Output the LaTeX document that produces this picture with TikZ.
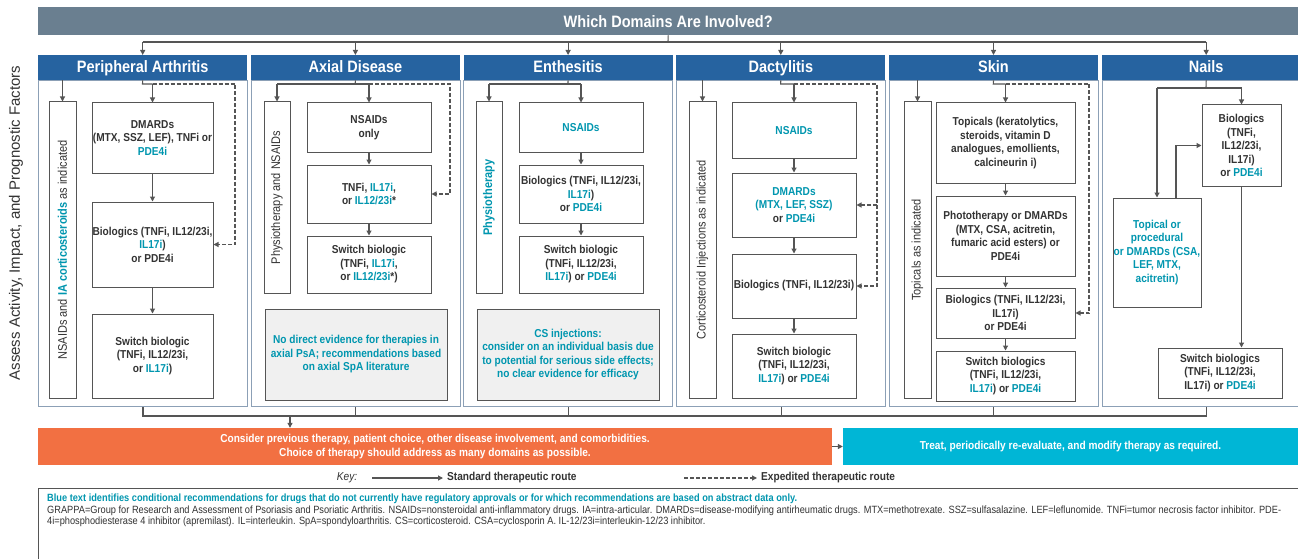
\documentclass[tikz,border=0pt]{standalone}
\usepackage{fontspec}
\setmainfont{Liberation Sans}[FakeStretch=0.88]
\newfontfamily\widefont{Liberation Sans}
\usetikzlibrary{arrows.meta}

\definecolor{hdrgray}{RGB}{106,127,144}
\definecolor{colblue}{RGB}{38,99,160}
\definecolor{frameblue}{RGB}{140,160,182}
\definecolor{boxline}{RGB}{85,85,85}
\definecolor{txtgray}{RGB}{51,51,51}
\definecolor{tealtxt}{RGB}{0,150,175}
\definecolor{notefill}{RGB}{240,240,240}
\definecolor{orangebar}{RGB}{242,112,66}
\definecolor{cyanbar}{RGB}{0,182,214}

\newcommand{\condrec}[1]{\textcolor{tealtxt}{\bfseries #1}}

\tikzstyle{box}=[draw=boxline, line width=1pt, fill=white, align=center, inner sep=0pt, text=txtgray, font=\fontsize{11.5}{13.5}\selectfont\bfseries]
\tikzstyle{vbox}=[box, rotate=90, font=\fontsize{12.5}{14}\selectfont]
\tikzstyle{note}=[box, fill=notefill, text=tealtxt]
\tikzstyle{colhead}=[fill=colblue, text=white, inner sep=0pt, minimum width=209pt, minimum height=25pt, text height=12pt, text depth=3pt, font=\fontsize{16.5}{18}\selectfont\bfseries]
\tikzstyle{colbody}=[draw=frameblue, line width=1pt, inner sep=0pt, minimum width=209pt, minimum height=326pt]
\tikzstyle{bar}=[text=white, align=center, inner sep=0pt, minimum height=37pt, font=\fontsize{11.5}{13.5}\selectfont\bfseries]
\tikzstyle{link}=[draw=boxline, line width=1.1pt]
\tikzstyle{flow}=[link, -{Triangle[length=5pt,width=5pt]}]
\tikzstyle{fast}=[flow, dash pattern=on 4pt off 2pt]

\begin{document}
\begin{tikzpicture}[x=1pt,y=-1pt]
    \fill[white] (0,0) rectangle (1298,559);
    \useasboundingbox (0,0) rectangle (1298,559);

    \node[fill=hdrgray, text=white, inner sep=0pt, minimum width=1260pt, minimum height=28pt, anchor=north west, font=\fontsize{16.5}{18}\selectfont\bfseries] (domains) at (38,7) {Which Domains Are Involved?};
    \node[rotate=90, text=txtgray, font=\widefont\fontsize{15}{17}\selectfont] (assess) at (16,223) {Assess Activity, Impact, and Prognostic Factors};

    \foreach \name/\title [count=\i from 0] in {pa/Peripheral Arthritis, ax/Axial Disease, en/Enthesitis, da/Dactylitis, sk/Skin, na/Nails} {
        \node[colbody, anchor=north west] (\name b) at (38+212.7*\i,80) {};
        \node[colhead, anchor=north west] (\name h) at (38+212.7*\i,55) {\title};
    }

    \coordinate (split) at (668,42);
    \draw[link] (domains.south) -- (split);
    \draw[link] (pah.north |- split) -- (nah.north |- split);
    \foreach \name in {pa,ax,en,da,sk,na}
        \draw[flow] (\name h.north |- split) -- (\name h.north);

    \node[vbox, minimum width=296pt, minimum height=27pt] (pav) at (62.5,250) {NSAIDs and \condrec{IA corticosteroids} as indicated};
    \node[box, minimum width=121pt, minimum height=70pt] (pa1) at (152.5,138) {DMARDs\\(MTX, SSZ, LEF), TNFi or\\\condrec{PDE4i}};
    \node[box, minimum width=121pt, minimum height=85pt] (pa2) at (152.5,244.5) {Biologics (TNFi, IL12/23i,\\\condrec{IL17i})\\or PDE4i};
    \node[box, minimum width=121pt, minimum height=84pt] (pa3) at (152.5,356) {Switch biologic\\(TNFi, IL12/23i,\\or \condrec{IL17i})};
    \coordinate (paj) at (142.5,84);
    \draw[flow] (pah.south -| pav.east) -- (pav.east);
    \draw[link] (pah.south) -- (paj) -- (paj -| pa1.north);
    \draw[flow] (paj -| pa1.north) -- (pa1.north);
    \draw[fast] (paj -| pa1.north) -- (235,84) |- (pa2.east);
    \draw[flow] (pa1) -- (pa2);
    \draw[flow] (pa2) -- (pa3);

    \node[vbox, minimum width=191pt, minimum height=26pt] (axv) at (277,197.5) {Physiotherapy and NSAIDs};
    \node[box, minimum width=124pt, minimum height=49pt] (ax1) at (369,127.5) {NSAIDs\\only};
    \node[box, minimum width=124pt, minimum height=58pt] (ax2) at (369,194) {TNFi, \condrec{IL17i},\\or \condrec{IL12/23i}*};
    \node[box, minimum width=124pt, minimum height=57pt] (ax3) at (369,264.5) {Switch biologic\\(TNFi, \condrec{IL17i},\\or \condrec{IL12/23i}*)};
    \node[note, minimum width=182pt, minimum height=91pt] (axn) at (356,354.5) {No direct evidence for therapies in\\axial PsA; recommendations based\\on axial SpA literature};
    \coordinate (axj) at (355.2,84);
    \draw[link] (axh.south) -- (axj);
    \draw[link] (axj -| axv.east) -- (axj -| ax1.north);
    \draw[flow] (axj -| axv.east) -- (axv.east);
    \draw[flow] (axj -| ax1.north) -- (ax1.north);
    \draw[fast] (axj -| ax1.north) -- (450,84) |- (ax2.east);
    \draw[flow] (ax1) -- (ax2);
    \draw[flow] (ax2) -- (ax3);

    \node[vbox, minimum width=191pt, minimum height=26pt] (env) at (489,197.5) {\condrec{Physiotherapy}};
    \node[box, minimum width=124pt, minimum height=49pt] (en1) at (581,127.5) {\condrec{NSAIDs}};
    \node[box, minimum width=124pt, minimum height=58pt] (en2) at (581,194) {Biologics (TNFi, IL12/23i,\\\condrec{IL17i})\\or \condrec{PDE4i}};
    \node[box, minimum width=124pt, minimum height=57pt] (en3) at (581,264.5) {Switch biologic\\(TNFi, IL12/23i,\\\condrec{IL17i}) or \condrec{PDE4i}};
    \node[note, minimum width=182pt, minimum height=91pt] (enn) at (568,354.5) {CS injections:\\consider on an individual basis due\\to potential for serious side effects;\\no clear evidence for efficacy};
    \coordinate (enj) at (567.9,84);
    \draw[link] (enh.south) -- (enj);
    \draw[link] (enj -| env.east) -- (enj -| en1.north);
    \draw[flow] (enj -| env.east) -- (env.east);
    \draw[flow] (enj -| en1.north) -- (en1.north);
    \draw[flow] (en1) -- (en2);
    \draw[flow] (en2) -- (en3);

    \node[vbox, minimum width=296pt, minimum height=27pt] (dav) at (702.5,250) {Corticosteroid Injections as indicated};
    \node[box, minimum width=124pt, minimum height=55pt] (da1) at (794,130.5) {\condrec{NSAIDs}};
    \node[box, minimum width=124pt, minimum height=64pt] (da2) at (794,205) {\condrec{DMARDs}\\\condrec{(MTX, LEF, SSZ)}\\or \condrec{PDE4i}};
    \node[box, minimum width=124pt, minimum height=64pt] (da3) at (794,286) {Biologics (TNFi, IL12/23i)};
    \node[box, minimum width=124pt, minimum height=64pt] (da4) at (794,366) {Switch biologic\\(TNFi, IL12/23i,\\\condrec{IL17i}) or \condrec{PDE4i}};
    \coordinate (daj) at (780.6,84);
    \coordinate (dad) at (877,84);
    \draw[flow] (dah.south -| dav.east) -- (dav.east);
    \draw[link] (dah.south) -- (daj) -- (daj -| da1.north);
    \draw[flow] (daj -| da1.north) -- (da1.north);
    \draw[fast] (daj -| da1.north) -- (dad) |- (da3.east);
    \draw[fast] (dad |- da2.east) -- (da2.east);
    \draw[flow] (da1) -- (da2);
    \draw[flow] (da2) -- (da3);
    \draw[flow] (da3) -- (da4);

    \node[vbox, minimum width=296pt, minimum height=27pt] (skv) at (917.5,250) {Topicals as indicated};
    \node[box, minimum width=139pt, minimum height=80pt] (sk1) at (1005.5,143) {Topicals (keratolytics,\\steroids, vitamin D\\analogues, emollients,\\calcineurin i)};
    \node[box, minimum width=139pt, minimum height=80pt] (sk2) at (1005.5,236) {Phototherapy or DMARDs\\(MTX, CSA, acitretin,\\fumaric acid esters) or\\PDE4i};
    \node[box, minimum width=139pt, minimum height=50pt] (sk3) at (1005.5,313) {Biologics (TNFi, IL12/23i,\\IL17i)\\or PDE4i};
    \node[box, minimum width=139pt, minimum height=50pt] (sk4) at (1005.5,376) {Switch biologics\\(TNFi, IL12/23i,\\\condrec{IL17i}) or \condrec{PDE4i}};
    \coordinate (skj) at (993.3,84);
    \draw[flow] (skh.south -| skv.east) -- (skv.east);
    \draw[link] (skh.south) -- (skj) -- (skj -| sk1.north);
    \draw[flow] (skj -| sk1.north) -- (sk1.north);
    \draw[fast] (skj -| sk1.north) -- (1089,84) |- (sk3.east);
    \draw[flow] (sk1) -- (sk2);
    \draw[flow] (sk2) -- (sk3);
    \draw[flow] (sk3) -- (sk4);

    \node[box, minimum width=79pt, minimum height=81pt] (na1) at (1241.5,145.5) {Biologics\\(TNFi,\\IL12/23i,\\IL17i)\\or \condrec{PDE4i}};
    \node[box, minimum width=88pt, minimum height=109pt, text=tealtxt] (na2) at (1157,252.5) {Topical or\\procedural\\or DMARDs (CSA,\\LEF, MTX,\\acitretin)};
    \node[box, minimum width=124pt, minimum height=50pt] (na3) at (1220,373) {Switch biologics\\(TNFi, IL12/23i,\\IL17i) or \condrec{PDE4i}};
    \coordinate (naj) at (1206,88);
    \draw[link] (nah.south) -- (naj);
    \draw[link] (naj -| na2.north) -- (naj -| na1.north);
    \draw[flow] (naj -| na2.north) -- (na2.north);
    \draw[flow] (naj -| na1.north) -- (na1.north);
    \draw[flow] ([xshift=19pt]na2.north) |- (na1.west);
    \draw[flow] (na1.south) -- (na1.south |- na3.north);

    \node[bar, fill=orangebar, minimum width=794pt] (orange) at (435,446.5) {Consider previous therapy, patient choice, other disease involvement, and comorbidities.\\Choice of therapy should address as many domains as possible.};
    \node[bar, fill=cyanbar, minimum width=455pt] (cyan) at (1070.5,446.5) {Treat, periodically re-evaluate, and modify therapy as required.};
    \coordinate (merge) at (290,416);
    \draw[link] (pab.south) -- (pab.south |- merge) -- (nab.south |- merge);
    \foreach \name in {ax,en,da,sk,na}
        \draw[link] (\name b.south) -- (\name b.south |- merge);
    \draw[flow] (merge) -- (merge |- orange.north);
    \draw[flow] (orange) -- (cyan);

    \node[text=txtgray, font=\fontsize{11.5}{13}\selectfont\itshape] (key) at (347,478) {Key:};
    \node[anchor=west, text=txtgray, inner sep=0pt, font=\fontsize{11.5}{13}\selectfont\bfseries] (stdlbl) at (447,478) {Standard therapeutic route};
    \node[anchor=west, text=txtgray, inner sep=0pt, font=\fontsize{11.5}{13}\selectfont\bfseries] (fastlbl) at (761,478) {Expedited therapeutic route};
    \coordinate (std) at (372,478);
    \coordinate (exp) at (684,478);
    \draw[flow] (std) -- ([xshift=-4pt]stdlbl.west);
    \draw[fast] (exp) -- ([xshift=-4pt]fastlbl.west);

    \draw[draw=boxline, line width=0.8pt] (38,488) rectangle (1320,600);
    \node[anchor=north west, align=left, inner sep=0pt, text=txtgray, font=\fontsize{10.5}{11.5}\selectfont] (notes) at (47,494) {\condrec{Blue text identifies conditional recommendations for drugs that do not currently have regulatory approvals or for which recommendations are based on abstract data only.}\\GRAPPA=Group for Research and Assessment of Psoriasis and Psoriatic Arthritis. NSAIDs=nonsteroidal anti-inflammatory drugs. IA=intra-articular. DMARDs=disease-modifying antirheumatic drugs. MTX=methotrexate. SSZ=sulfasalazine. LEF=leflunomide. TNFi=tumor necrosis factor inhibitor. PDE-\\4i=phosphodiesterase 4 inhibitor (apremilast). IL=interleukin. SpA=spondyloarthritis. CS=corticosteroid. CSA=cyclosporin A. IL-12/23i=interleukin-12/23 inhibitor.};
\end{tikzpicture}
\end{document}
